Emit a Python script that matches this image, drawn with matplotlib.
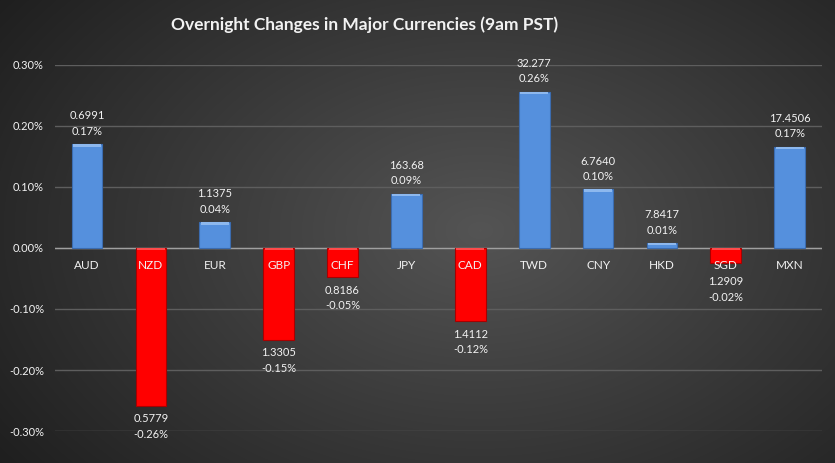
import matplotlib.pyplot as plt
import numpy as np
from matplotlib.ticker import FuncFormatter

currencies = ['AUD', 'NZD', 'EUR', 'GBP', 'CHF', 'JPY', 'CAD', 'TWD', 'CNY', 'HKD', 'SGD', 'MXN']
changes = [0.170, -0.259, 0.042, -0.151, -0.048, 0.089, -0.120, 0.256, 0.096, 0.008, -0.024, 0.166]
rates = ['0.6991', '0.5779', '1.1375', '1.3305', '0.8186', '163.68', '1.4112',
         '32.277', '6.7640', '7.8417', '1.2909', '17.4506']

plt.rcParams['font.family'] = ['Lato', 'DejaVu Sans']

fig = plt.figure(figsize=(8.35, 4.63), dpi=100)

# radial grey background
bg = fig.add_axes([0, 0, 1, 1], zorder=-10)
yy, xx = np.mgrid[0:463, 0:835]
r = np.sqrt(((xx - 480) / 620.0) ** 2 + ((yy - 230) / 420.0) ** 2)
shade = np.clip(0.33 - 0.22 * r, 0.1, 0.35)
bg.imshow(np.dstack([shade, shade, shade]), aspect='auto', extent=[0, 1, 0, 1])
bg.axis('off')

ax = fig.add_axes([0.066, 0.069, 0.918, 0.791])
ax.patch.set_alpha(0)
x = np.arange(len(currencies))
vals = np.array(changes)
colors = ['#5590DD' if v >= 0 else '#FF0000' for v in vals]
edges = ['#3B6CB0' if v >= 0 else '#A80000' for v in vals]
ax.bar(x, vals, width=0.48, color=colors, edgecolor=edges, linewidth=0.8, zorder=3)
# thin bevel highlight on the top of each bar
hl = np.full(len(vals), 0.004)
top = np.maximum(vals, 0) - hl
hl_col = ['#8DB8EE' if v >= 0 else '#FF4A4A' for v in vals]
ax.bar(x, hl, bottom=top, width=0.44, color=hl_col, linewidth=0, zorder=4)

ax.set_xlim(-0.5, len(currencies) - 0.5)
ax.set_ylim(-0.30, 0.30)
ax.set_yticks([-0.3, -0.2, -0.1, 0, 0.1, 0.2, 0.3])
ax.yaxis.set_major_formatter(FuncFormatter(lambda v, p: '%.2f%%' % v))
ax.grid(axis='y', color='#5E5E5E', linewidth=1, zorder=0)
ax.axhline(0, color='#A0A0A0', linewidth=1, zorder=2)
ax.set_xticks([])
ax.tick_params(axis='y', length=0, colors='#F2F2F2', labelsize=8, pad=8)
for s in ax.spines.values():
    s.set_visible(False)

for i, v in enumerate(vals):
    ax.text(i, -0.028, currencies[i], ha='center', va='center', color='#F2F2F2',
            fontsize=8.5, zorder=5)
    txt = rates[i] + '\n' + '%.2f%%' % v
    if v >= 0:
        ax.text(i, v + 0.012, txt, ha='center', va='bottom', color='#F2F2F2',
                fontsize=8, linespacing=1.5, zorder=5, clip_on=False)
    else:
        ax.text(i, min(v - 0.012, -0.046), txt, ha='center', va='top', color='#F2F2F2',
                fontsize=8, linespacing=1.5, zorder=5, clip_on=False)

fig.text(0.437, 0.946, 'Overnight Changes in Major Currencies (9am PST)', ha='center',
         va='center', color='#F2F2F2', fontsize=12.5, fontweight='bold')

plt.savefig('out.png', dpi=100)
